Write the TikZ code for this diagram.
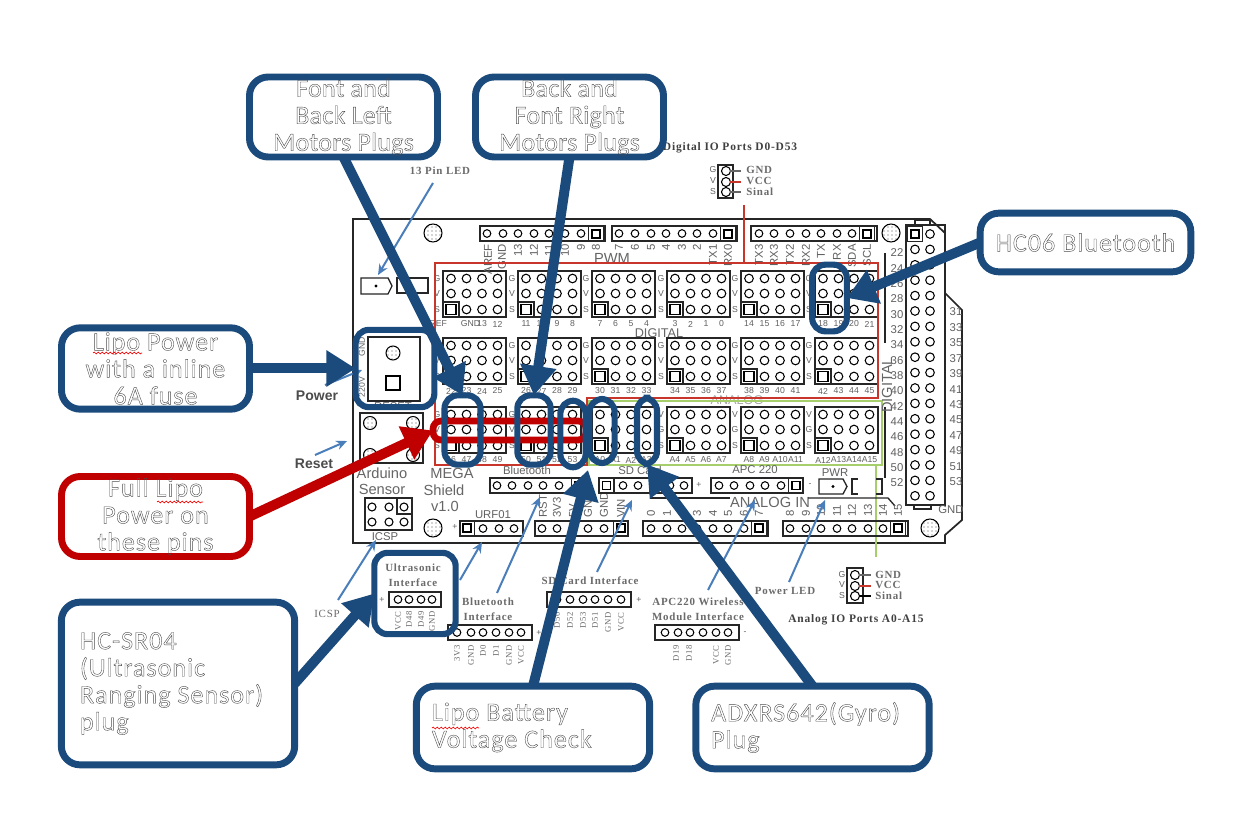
\documentclass[tikz,border=0pt]{standalone}
\usepackage{fontspec}
\setmainfont{Carlito}
\newfontfamily\labfont{Liberation Sans}
\newfontfamily\serfont[LetterSpace=7]{Liberation Serif}
\newfontfamily\callfont[LetterSpace=4]{Carlito}
\newfontfamily\callfontb[LetterSpace=1]{Carlito}
\usetikzlibrary{arrows.meta,decorations.pathmorphing,patterns}
\definecolor{cblue}{HTML}{1B4A7C}
\definecolor{cred}{HTML}{C00000}
\definecolor{thin}{HTML}{4A7EBB}
\definecolor{lred}{HTML}{C8352B}
\definecolor{lgreen}{HTML}{A6CE6B}
\newcommand\hollowon{\special{pdf:code 1 Tr 0.3 w 0.3 G}}
\newcommand\hollowoff{\special{pdf:code 0 Tr}}
\tikzset{
  x=0.75pt,y=-0.75pt,
  callout/.style={draw=cblue,fill=white,line width=5.2pt,rounded corners=14pt,outer sep=0pt,inner sep=0pt,
     font=\callfont\fontsize{19.5}{20.25}\selectfont,align=center},
  calloutb/.style={callout,font=\callfontb\fontsize{19.5}{20.25}\selectfont},
  calloutred/.style={callout,draw=cred},
  mark box/.style={draw=cblue,line width=4.6pt,rounded corners=10pt,outer sep=0pt,inner sep=0pt},
  bigarrow/.style={draw=cblue,fill=cblue,line width=7.5pt,-{Triangle[length=22pt,width=26pt]}},
  redarrow/.style={bigarrow,draw=cred,fill=cred},
  thinarrow/.style={draw=thin,line width=1.5pt,-{Stealth[length=8pt,width=7pt]}},
  brd/.style={draw=black!85,line width=1pt},
  pinc/.style={draw=black,fill=white,line width=0.8pt},
  hole/.style={draw=black,line width=0.8pt,pattern=dots,pattern color=black!70},
  lab/.style={inner sep=0pt,text=black!62,font=\labfont\fontsize{8.5}{9}\selectfont},
  biglab/.style={inner sep=0pt,text=black!60,font=\labfont\fontsize{11}{12}\selectfont},
  tiny/.style={inner sep=0pt,text=black!62,font=\labfont\fontsize{6.5}{7}\selectfont},
  serlab/.style={inner sep=0pt,text=black!58,font=\serfont\bfseries\fontsize{8.2}{9}\selectfont,align=center},
  serdark/.style={serlab,text=black!75,font=\serfont\bfseries\fontsize{8.6}{9}\selectfont},
  boldlab/.style={inner sep=0pt,font=\labfont\bfseries\fontsize{10.5}{11}\selectfont,text=black!70},
  squig/.style={draw=red,line width=0.5pt,decorate,decoration={snake,amplitude=0.7pt,segment length=3pt}},
}
% pin block: x, y, letter 1, letter 2, labels
\newcommand\pblock[5]{%
  \draw[brd] (#1,#2) rectangle ++(63,46);
  \foreach \r/\ry in {0/7.5,1/22.5,2/38.5}{%
    \foreach \c/\cx in {0/8,1/23.5,2/39,3/54.5}{%
      \draw[pinc] (#1+\cx,#2+\ry) circle (4.3);
    }
  }
  \draw[brd] (#1,#2+31) rectangle ++(16,15);
  \draw[pinc] (#1+3,#2+33.5) rectangle ++(10,10);
  \node[tiny] (a#1-#2-g) at (#1-6,#2+7.5) {#3};
  \node[tiny] (a#1-#2-v) at (#1-6,#2+22.5) {#4};
  \node[tiny] (a#1-#2-s) at (#1-6,#2+38.5) {S};
  \foreach \l [count=\i from 0] in {#5}{%
    \node[tiny] (l#1-#2-\i) at (#1+8+15.5*\i,#2+53) {\l};
  }
}
% strip header: x0, x1, y, pins
\newcommand\hstrip[4]{%
  \draw[brd] (#1,#3) rectangle (#2,#3+15);
  \foreach \p in {#4}{\draw[pinc] (\p,#3+7.5) circle (3.8);}
}
\newcommand\sqpin[2]{%
  \draw[brd] (#1-7.5,#2-7.5) rectangle ++(15,15);
  \draw[pinc] (#1-4,#2-4) rectangle ++(8,8);
}
\begin{document}
\begin{tikzpicture}
\useasboundingbox (0,0) rectangle (1246,823);
\fill[white] (0,0) rectangle (1246,823);
% board outline
\draw[brd,line width=1.3pt] (353,219) -- (930,219) -- (945,233) -- (945,293) -- (962,310) -- (962,520) -- (945,535) -- (945,543) -- (353,543) -- cycle;
% pin blocks
\pblock{443}{271}{G}{V}{REF\kern19pt,\kern6pt GND,13,12}
\pblock{518}{271}{G}{V}{11,10,9,8}
\pblock{592}{271}{G}{V}{7,6,5,4}
\pblock{667}{271}{G}{V}{3,2,1,0}
\pblock{741}{271}{G}{V}{14,15,16,17}
\pblock{815}{271}{G}{V}{18,19,20,21}
\pblock{443}{338}{G}{V}{22,23,24,25}
\pblock{518}{338}{G}{V}{26,27,28,29}
\pblock{592}{338}{G}{V}{30,31,32,33}
\pblock{667}{338}{G}{V}{34,35,36,37}
\pblock{741}{338}{G}{V}{38,39,40,41}
\pblock{815}{338}{G}{V}{42,43,44,45}
\pblock{443}{407}{G}{V}{46,47,48,49}
\pblock{518}{407}{G}{V}{50,51,52,53}
\pblock{592}{407}{V}{G}{A0,A1,A2,A3}
\pblock{667}{407}{V}{G}{A4,A5,A6,A7}
\pblock{741}{407}{V}{G}{A8,A9,A10,A11}
\pblock{815}{407}{V}{G}{A12,A13,A14,A15}
% top headers
\hstrip{480}{605}{226}{487,503,518,534,549,565,581}
\sqpin{596}{234}
\foreach \p/\t in {488/AREF,502/GND,518/13,534/12,549/11,565/10,581/9,596/8}{\node[lab,rotate=90,anchor=east] (t\p) at (\p,244) {\t};}
\hstrip{612}{737}{226}{619,635,651,666,682,697,713}
\sqpin{728}{234}
\foreach \p/\t in {619/7,635/6,651/5,666/4,682/3,697/2,713/TX1,728/RX0}{\node[lab,rotate=90,anchor=east] (t\p) at (\p,244) {\t};}
\hstrip{751}{877}{226}{759,774,790,806,821,837,852}
\sqpin{867}{234}
\foreach \p/\t in {759/TX3,774/RX3,790/TX2,806/RX2,821/TX,837/RX,852/SDA,867/SCL}{\node[lab,rotate=90,anchor=east] (t\p) at (\p,244) {\t};}
\node[biglab] (pwmlab) at (612,258) {PWM};
\node[biglab,font=\labfont\fontsize{9.5}{10}\selectfont] (diglab) at (659,333) {DIGITAL};
\node[biglab,text=black!35,font=\labfont\fontsize{9.5}{10}\selectfont] (analab) at (737,400) {ANALOG};
% red and green zones
\draw[lred,line width=1.6pt] (744,205) -- (744,263);
\draw[lred,line width=1.6pt] (435,263) -- (878,263) -- (878,398) -- (587,398) -- (587,465) -- (435,465) -- cycle;
\draw[lgreen,line width=1.6pt] (589,401) -- (882,401) -- (882,465) -- (589,465) -- cycle;
\draw[lgreen,line width=1.6pt] (876,465) -- (876,557);
% right header
\draw[brd] (906,225) rectangle (945,505);
\draw[brd] (915,220) rectangle (930,225);
\draw[brd] (914,505) rectangle (931,509);
\foreach \k in {1,...,17}{\draw[pinc] (915,234+15.4*\k) circle (4.3);}
\foreach \k in {0,...,17}{\draw[pinc] (930,234+15.4*\k) circle (4.3);}
\sqpin{915}{234}
\foreach \t [count=\i from 0] in {22,24,26,28,30,32,34,36,38,40,42,44,46,48,50,52}{\node[lab] (e\t) at (897,253+15.33*\i) {\t};}
\foreach \t [count=\i from 0] in {31,33,35,37,39,41,43,45,47,49,51,53}{\node[lab] (o\t) at (956,312+15.45*\i) {\t};}
\node[lab] (gndr) at (951,510) {GND};
\draw[brd] (885,253) -- (885,343);
\draw[brd] (885,407) -- (885,478);
\node[biglab,rotate=90] (digv) at (887,385) {DIGITAL};
% mounting holes
\foreach \p in {{(433,233)},{(891,233)},{(433,528)},{(930,528)}}{\draw[hole] \p circle (9);}
% led + bracket
\draw[brd] (361,278) -- (388,278) -- (392,286) -- (388,294) -- (361,294) -- cycle;
\fill (376,286) circle (1.6);
\draw[brd] (397,278) rectangle (428,293);
% power block
\draw[brd] (368,337) rectangle (420,401);
\draw[hole] (393,353) circle (7);
\draw[pinc] (386,376) rectangle (400,390);
\node[tiny,rotate=90] (pgnd) at (362,347) {GND};
\node[tiny,rotate=90] (p220) at (362,387) {220V};
\node[lab] (resetl) at (393,407) {RESET};
% reset block
\draw[brd] (360,413) rectangle (423,463);
\foreach \a/\b in {370/423,413/423,370/455,413/455}{\draw[hole] (\a,\b) circle (6.5);}
\node[biglab] (ard) at (382,473) {Arduino};
\node[biglab] (sen) at (382,489) {Sensor};
\node[biglab] (meg) at (452,473) {MEGA};
\node[biglab] (shl) at (444,490) {Shield};
\node[biglab] (ver) at (445,506) {v1.0};
% ICSP
\draw[brd] (365,498) rectangle (412,530);
\draw[brd] (397,498) rectangle (412,514);
\foreach \a in {372,389,404}{\foreach \b in {507,522}{\draw[pinc] (\a,\b) circle (4);}}
\node[lab] (icspin) at (385,537) {ICSP};
% URF01
\node[lab] (urf) at (493,515) {URF01};
\hstrip{460}{523}{521}{483,499,514}
\sqpin{467}{528}
\node[tiny] (urfp) at (455,527) {+};
% power header
\hstrip{535}{628}{521}{542,557,573,588,604}
\sqpin{621}{528}
\foreach \p/\t in {543/RST,557/3V3,573/5V,588/GND,604/GND,621/VIN}{\node[lab,rotate=90,anchor=west] (u\p) at (\p,518) {\t};}
% Bluetooth strip
\node[lab] (btl) at (527,470) {Bluetooth};
\hstrip{490}{587}{478}{497,512,528,543,559}
\sqpin{579}{485.5}
% SD strip
\node[lab] (sdl) at (640,470) {SD Card};
\hstrip{599}{692}{478}{623,638,654,670,684}
\sqpin{606.5}{485.5}
\node[tiny] (sdp) at (699,485) {+};
% APC strip
\node[lab] (apcl) at (755,470) {APC 220};
\hstrip{711}{803}{478}{719,734,750,765,781}
\sqpin{796}{485.5}
\node[tiny] (apcm) at (810,485) {-};
% PWR led
\node[lab] (pwrl) at (835,473) {PWR};
\draw[brd] (819,479) -- (843,479) -- (847,486.5) -- (843,494) -- (819,494) -- cycle;
\fill (833,486.5) circle (1.6);
\draw[brd,line width=1.4pt] (858,479) -- (852,479) -- (852,494) -- (858,494);
\draw[brd,line width=1.4pt] (876,479) -- (882,479) -- (882,494) -- (876,494);
% analog in
\node[biglab] (ain) at (770,502) {ANALOG IN};
\draw[brd] (650,498) -- (730,498);
\draw[brd] (808,498) -- (888,498) -- (895,506);
\hstrip{643}{768}{521}{651,667,682,697,713,728,744}
\sqpin{759}{528}
\foreach \p/\t in {651/0,667/1,682/2,697/3,713/4,728/5,744/6,759/7}{\node[lab,rotate=90,anchor=west] (v\p) at (\p,517) {\t};}
\hstrip{783}{908}{521}{790,806,821,837,852,868,883}
\sqpin{898}{528}
\foreach \p/\t in {790/8,806/9,821/10,837/11,852/12,868/13,883/14,898/15}{\node[lab,rotate=90,anchor=west] (v\p) at (\p,517) {\t};}
% digital IO key
\node[serdark] (dkey) at (730,148) {Digital IO Ports D0-D53};
\draw[brd] (718,165) rectangle (733,198);
\foreach \b in {171,182,192}{\draw[pinc] (726,\b) circle (4.5);}
\draw[black!60,line width=0.8pt] (730,171) -- (741,171);
\draw[lred,line width=1.2pt] (730,182) -- (741,182);
\draw[black!60,line width=0.8pt] (730,192) -- (741,192);
\foreach \t/\b in {GND/170,VCC/181,Sinal/192}{\node[serlab,anchor=west] (dk\t) at (746,\b) {\t};}
\foreach \t/\b in {G/170,V/181,S/192}{\node[tiny] (dl\t) at (713,\b) {\t};}
% analog IO key
\node[serdark] (akey) at (856,620) {Analog IO Ports A0-A15};
\draw[brd] (847,568) rectangle (863,603);
\foreach \b in {575,586,596}{\draw[pinc] (855,\b) circle (4.5);}
\draw[black!60,line width=0.8pt] (859,575) -- (871,575);
\draw[lred,line width=1.2pt] (859,586) -- (871,586);
\draw[black,line width=0.8pt] (859,596) -- (871,596);
\foreach \t/\b in {GND/575,VCC/585,Sinal/596}{\node[serlab,anchor=west] (ak\t) at (875,\b) {\t};}
\foreach \t/\b in {G/575,V/585,S/596}{\node[tiny] (al\t) at (842,\b) {\t};}
% ultrasonic
\node[serlab] (uslab) at (413,575) {Ultrasonic\\[2pt]Interface};
\hstrip{389}{441}{592}{398,409,421,432}
\node[tiny] (usp) at (382,600) {+};
\foreach \p/\t in {398/VCC,409/D48,421/D49,432/GND}{\node[serlab,font=\serfont\fontsize{6.5}{7}\selectfont,rotate=90,anchor=east] (us\t) at (\p,611) {\t};}
% bluetooth interface
\node[serlab] (btlab) at (488,609) {Bluetooth\\[2pt]Interface};
\hstrip{448}{532}{625}{457,471,483,496,509,521}
\node[tiny] (btp) at (539,633) {+};
\foreach \p/\t in {457/3V3,471/GND,483/D0,496/D1,509/GND,521/VCC}{\node[serlab,font=\serfont\fontsize{6.5}{7}\selectfont,rotate=90,anchor=east] (bi\p) at (\p,645) {\t};}
% sd interface
\node[serlab] (sdlab) at (590,581) {SD Card Interface};
\hstrip{547}{631}{592}{557,570,583,595,608,621}
\node[tiny] (sdip) at (639,600) {+};
\foreach \p/\t in {557/D50,570/D52,583/D53,595/D51,608/GND,621/VCC}{\node[serlab,font=\serfont\fontsize{6.5}{7}\selectfont,rotate=90,anchor=east] (si\p) at (\p,612) {\t};}
% apc interface
\node[serlab] (apclab) at (698,609) {APC220 Wireless\\[2pt]Module Interface};
\hstrip{655}{739}{625}{665,678,690,703,716,728}
\node[tiny] (apip) at (745,633) {-};
\foreach \p/\t in {676/D19,689/D18,716/VCC,728/GND}{\node[serlab,font=\serfont\fontsize{6.5}{7}\selectfont,rotate=90,anchor=east] (ai\p) at (\p,645) {\t};}
% other labels
\node[serlab] (ledlab) at (785,591) {Power LED};
\node[serlab] (pinlab) at (440,171) {13 Pin LED};
\node[serlab,font=\serfont\fontsize{8.2}{9}\selectfont] (icsplab) at (327,614) {ICSP};
\node[boldlab] (powlab) at (317,396) {Power};
\node[boldlab] (reslab) at (314,464) {Reset};
% thin arrows
\coordinate (sLedA) at (433,183);
\coordinate (aLed) at (378,275);
\coordinate (sPow) at (325,385);
\coordinate (aPow) at (362,370);
\coordinate (sRes) at (315,455);
\coordinate (aRes) at (347,441);
\coordinate (sIc) at (338,600);
\coordinate (aIc) at (376,540);
\coordinate (sUs) at (460,580);
\coordinate (aUs) at (482,542);
\coordinate (sBt) at (497,593);
\coordinate (aBt) at (540,497);
\coordinate (sSd) at (597,572);
\coordinate (aSd) at (632,500);
\coordinate (sAp) at (708,590);
\coordinate (aAp) at (755,500);
\coordinate (sLd) at (789,582);
\coordinate (aLd) at (825,500);
\draw[thinarrow] (sLedA) -- (aLed);
\draw[thinarrow] (sPow) -- (aPow);
\draw[thinarrow] (sRes) -- (aRes);
\draw[thinarrow] (sIc) -- (aIc);
\draw[thinarrow] (sUs) -- (aUs);
\draw[thinarrow] (sBt) -- (aBt);
\draw[thinarrow] (sSd) -- (aSd);
\draw[thinarrow] (sAp) -- (aAp);
\draw[thinarrow] (sLd) -- (aLd);
% red bar
\node[draw=cred,line width=5pt,rounded corners=6pt,minimum width=114.75pt,minimum height=14.25pt,inner sep=0pt,outer sep=0pt] (redbar) at (509.5,430.5) {};
% highlight boxes
\node[mark box,minimum width=59pt,minimum height=58pt] (mPow) at (395,368.5) {};
\node[mark box,minimum width=27pt,minimum height=52pt] (mFL) at (462.5,430) {};
\node[mark box,minimum width=25pt,minimum height=52pt] (mFR) at (534,430) {};
\node[mark box,minimum width=19pt,minimum height=50pt] (mBat) at (573,434) {};
\node[mark box,minimum width=19pt,minimum height=48pt] (mA0) at (602,431) {};
\node[mark box,minimum width=15pt,minimum height=50pt] (mGyro) at (647,431) {};
\node[mark box,minimum width=26pt,minimum height=50pt] (mBT) at (829.5,298) {};
\node[mark box,minimum width=61pt,minimum height=61pt] (mUS) at (415,593.5) {};
% callouts
\node[calloutb,minimum width=141pt,minimum height=60pt] (cA) at (343.5,117) {\hollowon Font and\\Back Left\\Motors Plugs\hollowoff};
\node[calloutb,minimum width=141pt,minimum height=60pt] (cB) at (569.5,117) {\hollowon Back and\\Font Right\\Motors Plugs\hollowoff};
\node[callout,minimum width=158pt,minimum height=44pt] (cC) at (1085.5,242.5) {\hollowon HC06 Bluetooth\hollowoff};
\node[callout,minimum width=141pt,minimum height=61pt] (cD) at (155.5,368.5) {\hollowon Lipo Power\\with a inline\\6A fuse\hollowoff};
\node[calloutred,minimum width=141pt,minimum height=60pt] (cE) at (155.5,516.5) {\hollowon Full Lipo\\Power on\\these pins\hollowoff};
\node[callout,minimum width=175pt,minimum height=122pt,align=left] (cF) at (178,683.5) {\hollowon\parbox{147pt}{HC-SR04\\(Ultrasonic\\Ranging Sensor)\\plug}\hollowoff};
\node[callout,minimum width=175pt,minimum height=62pt,align=left] (cG) at (533,727.5) {\hollowon\parbox{151.5pt}{Lipo Battery\\Voltage Check}\hollowoff};
\node[callout,minimum width=175pt,minimum height=62pt,align=left] (cH) at (812.5,727.5) {\hollowon\parbox{152pt}{ADXRS642(Gyro)\\Plug}\hollowoff};
% squiggles
\draw[squig] (93,353) -- (142,353);
\draw[squig] (157,502) -- (203,502);
\draw[squig] (432,728) -- (479,728);
% big arrows
\coordinate (tipBat) at (588,470);
\draw[bigarrow] (cA.south) -- (mFL.north);
\draw[bigarrow] (cB.south) -- (mFR.north);
\draw[bigarrow] (cC.west) -- (mBT.east);
\draw[bigarrow] (cD.east) -- (mPow.west);
\draw[redarrow] (cE.east) -- (redbar.west);
\draw[bigarrow] (cF.east) -- (mUS.west);
\draw[bigarrow] (cG.north) -- (tipBat);
\draw[bigarrow] (cH.north) -- (mGyro.south);
\end{tikzpicture}
\end{document}
